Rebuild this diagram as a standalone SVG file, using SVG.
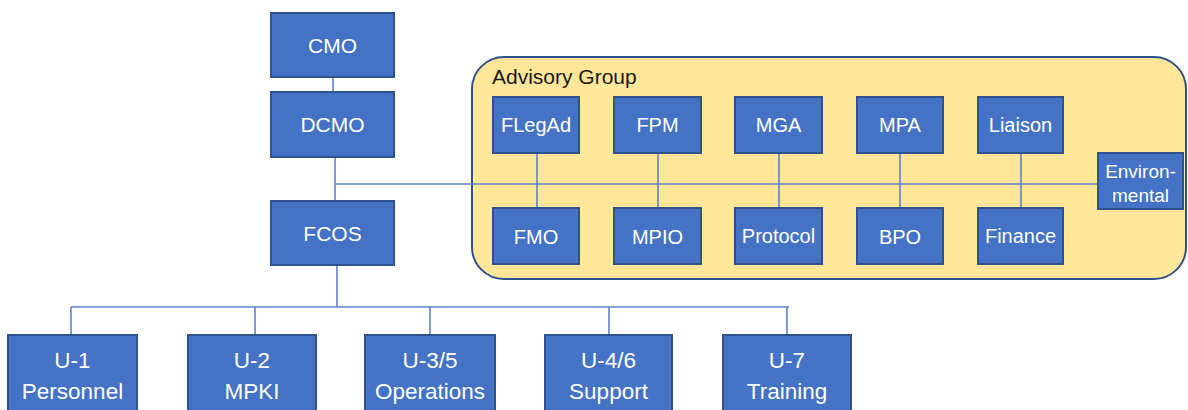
<svg xmlns="http://www.w3.org/2000/svg" width="1188" height="410" viewBox="0 0 1188 410">
<style>
.box{fill:#4472C4;stroke:#2F528F;stroke-width:2}
.t{font-family:"Liberation Sans",Arial,sans-serif;fill:#FFFFFF;text-anchor:middle}
.m{font-size:21px}
.b{font-size:22.5px}
.a{font-size:20px}
.c{stroke:#5B83CC;stroke-width:1.6;fill:none}
</style>
<rect width="1188" height="410" fill="#FFFFFF"/>
<g id="advisory-group">
<rect x="472" y="57" width="714" height="222" rx="32" fill="#FFE699" stroke="#2F528F" stroke-width="2"/>
<text x="492" y="84" font-family="'Liberation Sans',Arial,sans-serif" font-size="21" fill="#1a1a1a">Advisory Group</text>
</g>
<g id="connectors">
<line class="c" x1="333" y1="77" x2="333" y2="92"/>
<line class="c" x1="335" y1="157" x2="335" y2="201"/>
<line class="c" x1="335" y1="184" x2="1098" y2="184"/>
<line class="c" x1="337" y1="265" x2="337" y2="307"/>
<line class="c" x1="71" y1="307" x2="789" y2="307"/>
<line class="c" x1="71" y1="307" x2="71" y2="335"/>
<line class="c" x1="255" y1="307" x2="255" y2="335"/>
<line class="c" x1="430" y1="307" x2="430" y2="335"/>
<line class="c" x1="609" y1="307" x2="609" y2="335"/>
<line class="c" x1="787" y1="307" x2="787" y2="335"/>
<line class="c" x1="537" y1="153" x2="537" y2="208"/>
<line class="c" x1="658" y1="153" x2="658" y2="208"/>
<line class="c" x1="779" y1="153" x2="779" y2="208"/>
<line class="c" x1="900" y1="153" x2="900" y2="208"/>
<line class="c" x1="1021" y1="153" x2="1021" y2="208"/>
</g>
<g id="cmo"><rect class="box" x="271" y="13" width="123" height="64"/><text class="t m" x="332.5" y="53">CMO</text></g>
<g id="dcmo"><rect class="box" x="271" y="92" width="123" height="65"/><text class="t m" x="332.5" y="132">DCMO</text></g>
<g id="fcos"><rect class="box" x="271" y="201" width="123" height="64"/><text class="t m" x="332.5" y="241">FCOS</text></g>
<g id="flegad"><rect class="box" x="493" y="97" width="86" height="56"/><text class="t a" x="536" y="132">FLegAd</text></g>
<g id="fpm"><rect class="box" x="614" y="97" width="87" height="56"/><text class="t a" x="657.5" y="132">FPM</text></g>
<g id="mga"><rect class="box" x="735" y="97" width="87" height="56"/><text class="t a" x="778.5" y="132">MGA</text></g>
<g id="mpa"><rect class="box" x="857" y="97" width="86" height="56"/><text class="t a" x="900" y="132">MPA</text></g>
<g id="liaison"><rect class="box" x="978" y="97" width="85" height="56"/><text class="t a" x="1020.5" y="132">Liaison</text></g>
<g id="fmo"><rect class="box" x="493" y="208" width="86" height="56"/><text class="t a" x="536" y="244">FMO</text></g>
<g id="mpio"><rect class="box" x="614" y="208" width="87" height="56"/><text class="t a" x="657.5" y="244">MPIO</text></g>
<g id="protocol"><rect class="box" x="735" y="208" width="87" height="56"/><text class="t a" x="778.5" y="243" font-size="19">Protocol</text></g>
<g id="bpo"><rect class="box" x="857" y="208" width="86" height="56"/><text class="t a" x="900" y="244">BPO</text></g>
<g id="finance"><rect class="box" x="978" y="208" width="85" height="56"/><text class="t a" x="1020.5" y="243" font-size="19">Finance</text></g>
<g id="environmental"><rect class="box" x="1098" y="153" width="85" height="56"/><text class="t" x="1140.5" y="178" font-size="19">Environ-</text><text class="t" x="1140.5" y="202" font-size="19">mental</text></g>
<g id="u1"><rect class="box" x="8" y="335" width="129" height="82"/><text class="t b" x="72.5" y="368">U-1</text><text class="t b" x="72.5" y="399">Personnel</text></g>
<g id="u2"><rect class="box" x="188" y="335" width="128" height="82"/><text class="t b" x="252" y="368">U-2</text><text class="t b" x="252" y="399">MPKI</text></g>
<g id="u35"><rect class="box" x="365" y="335" width="130" height="82"/><text class="t b" x="430" y="368">U-3/5</text><text class="t b" x="430" y="399">Operations</text></g>
<g id="u46"><rect class="box" x="545" y="335" width="127" height="82"/><text class="t b" x="608.5" y="368">U-4/6</text><text class="t b" x="608.5" y="399">Support</text></g>
<g id="u7"><rect class="box" x="723" y="335" width="128" height="82"/><text class="t b" x="787" y="368">U-7</text><text class="t b" x="787" y="399">Training</text></g>
</svg>
